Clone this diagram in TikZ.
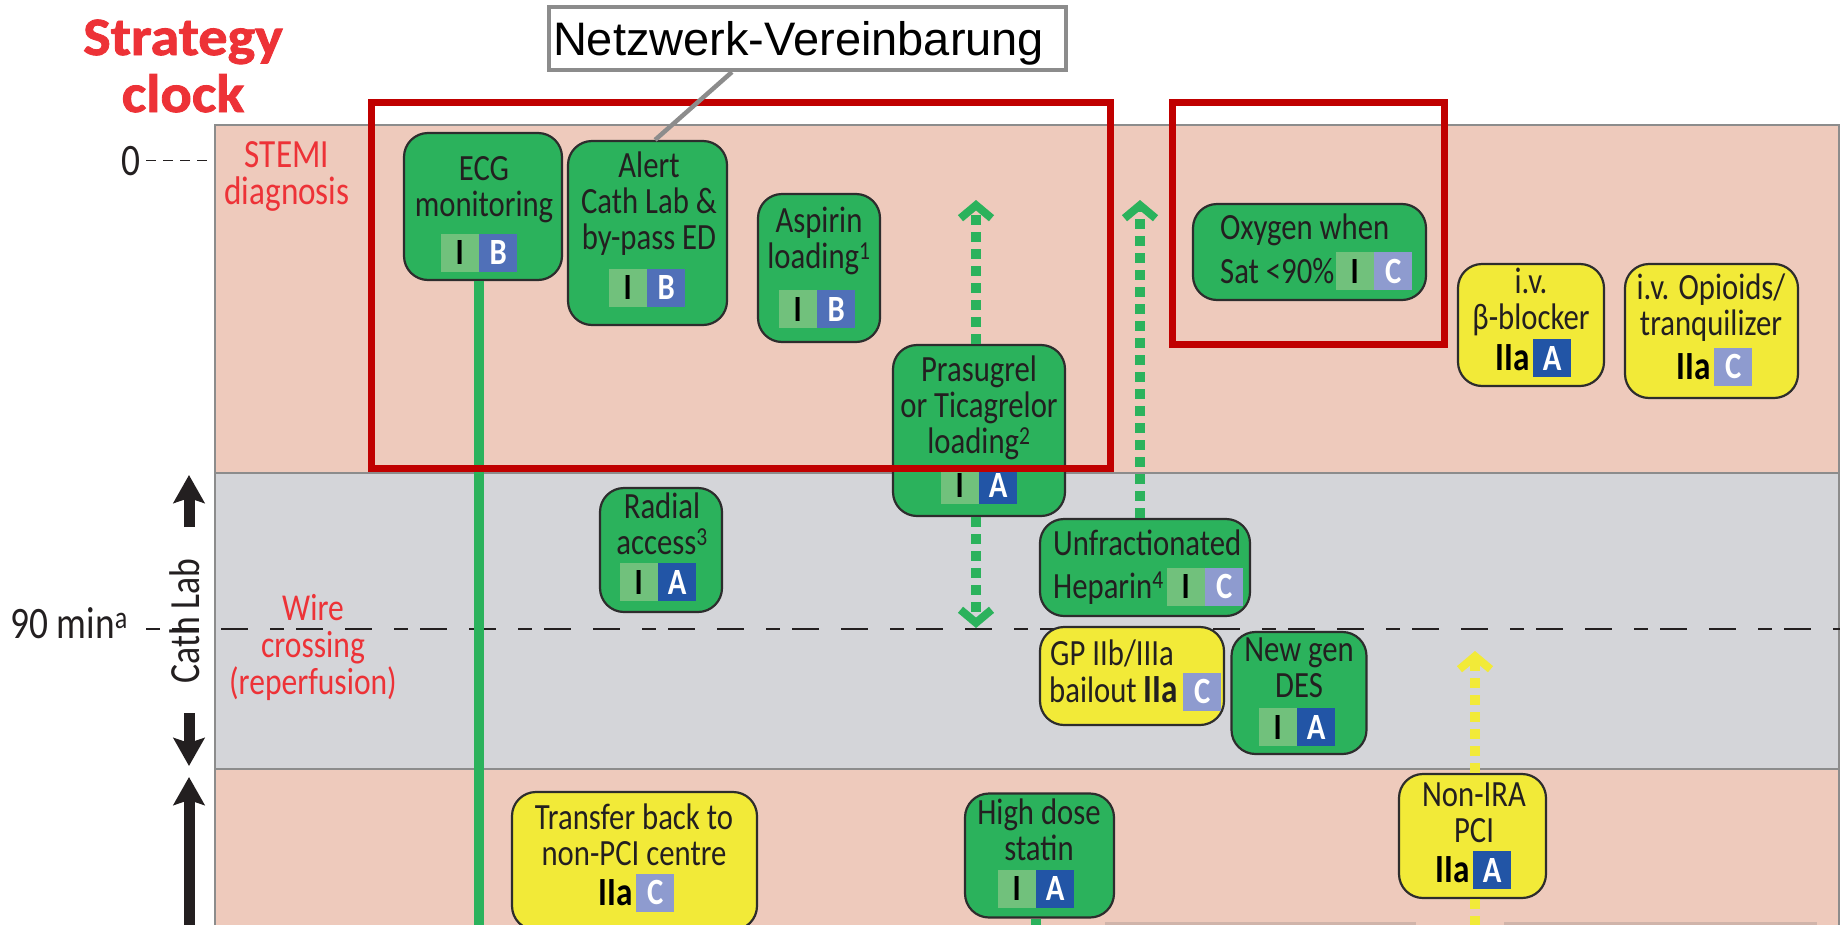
\documentclass[tikz,border=0pt]{standalone}
\usepackage{fontspec}
\setmainfont{Carlito}[FakeStretch=0.83]
\newfontfamily\titlefont{Carlito}[FakeStretch=1.08, BoldFeatures={FakeBold=1.6}]
\newfontfamily\arialfont{Liberation Sans}
\usetikzlibrary{arrows.meta,calc}
\definecolor{pinkbg}{RGB}{238,202,188}
\definecolor{graybg}{RGB}{212,213,217}
\definecolor{panelline}{RGB}{140,140,140}
\definecolor{boxgreen}{RGB}{43,178,92}
\definecolor{boxyellow}{RGB}{242,234,56}
\definecolor{boxline}{RGB}{45,45,45}
\definecolor{cellIc}{RGB}{113,193,124}
\definecolor{cellAc}{RGB}{34,85,166}
\definecolor{cellBc}{RGB}{80,112,184}
\definecolor{cellCc}{RGB}{142,155,207}
\definecolor{redtxt}{RGB}{237,50,55}
\definecolor{framered}{RGB}{192,0,0}
\definecolor{txtc}{RGB}{35,31,32}
\definecolor{calloutc}{RGB}{140,140,140}
\definecolor{bottomline}{RGB}{208,180,170}
\tikzset{
  band/.style={draw=panelline, line width=1.5pt, inner sep=0pt, anchor=north west},
  rbox/.style={draw=boxline, line width=2.2pt, rounded corners=24pt, inner sep=0pt},
  gbox/.style={rbox, fill=boxgreen},
  ybox/.style={rbox, fill=boxyellow},
  btxt/.style={font=\fontsize{37}{36}\selectfont, align=center, inner sep=0pt, text=txtc},
  cell/.style={minimum width=38pt, minimum height=38pt, inner sep=0pt, font=\fontsize{37}{36}\selectfont\bfseries},
  cI/.style={cell, fill=cellIc, text=black},
  cA/.style={cell, fill=cellAc, text=white},
  cB/.style={cell, fill=cellBc, text=white},
  cC/.style={cell, fill=cellCc, text=white},
  iia/.style={inner sep=0pt, font=\fontsize{40}{36}\selectfont\bfseries, text=black},
  redlbl/.style={font=\fontsize{40}{37}\selectfont, text=redtxt, align=center, inner sep=0pt},
  axlbl/.style={font=\fontsize{45}{44}\selectfont, text=txtc, inner sep=0pt},
  redframe/.style={draw=framered, line width=7pt, inner sep=0pt, anchor=north west},
  gline/.style={draw=boxgreen, line width=10pt},
  gdot/.style={draw=boxgreen, line width=10pt, dash pattern=on 10pt off 7pt, -{Straight Barb[length=13pt,width=31pt,line width=8pt]}},
  ydot/.style={draw=boxyellow, line width=10pt, dash pattern=on 10pt off 7pt, -{Straight Barb[length=13pt,width=31pt,line width=8pt]}},
  yseg/.style={draw=boxyellow, line width=10pt, dash pattern=on 10pt off 7pt},
  blackarrow/.style={draw=txtc, line width=11pt, -{Stealth[length=28pt,width=31pt,inset=5pt]}},
  tickdash/.style={draw=txtc, line width=1.6pt, dash pattern=on 10pt off 7pt},
  midline/.style={draw=txtc, line width=1.8pt, dash pattern=on 14pt off 12pt on 27pt off 22pt on 27pt off 22pt},
  netz/.style={draw=calloutc, line width=4pt, fill=white, inner xsep=4pt, inner ysep=0pt, font=\arialfont\fontsize{47}{47}\selectfont, text=black, text depth=0pt},
  callline/.style={draw=calloutc, line width=4.5pt},
}
\newcommand\twobadge[4]{%
  \node[cI, anchor=east] (#1I) at #2 {I};
  \node[#3, anchor=west] (#1L) at (#1I.east) {#4};}
\newcommand\iiabadge[4]{%
  \node[#3, anchor=west] (#1L) at #2 {#4};
  \node[iia, anchor=east] (#1I) at ([xshift=-3pt]#1L.west) {IIa};}
\begin{document}
\begin{tikzpicture}[x=1pt,y=-1pt]
\useasboundingbox (0,0) rectangle (1845,924);
% panel bands
\node[band, fill=pinkbg, minimum width=1624pt, minimum height=348pt] (band1) at (214,124) {};
\node[band, fill=graybg, minimum width=1624pt, minimum height=296pt] (band2) at (214,472) {};
\node[band, fill=pinkbg, minimum width=1624pt, minimum height=170pt] (band3) at (214,768) {};
\fill[bottomline] (1105,921.5) rectangle (1416,926);
\fill[bottomline] (1504,921.5) rectangle (1817,926);
% title and axis labels
\node[font=\titlefont\bfseries\fontsize{54}{57}\selectfont, text=redtxt, align=center, inner sep=0pt] (title) at (183,66) {Strategy\\clock};
\node[axlbl, anchor=base east] (zero) at (141,175) {0};
\draw[tickdash] ([xshift=5pt]zero.east) -- (zero.east -| band1.west);
\node[axlbl, anchor=base east] (ninety) at (128,638) {90 min\textsuperscript{a}};
\coordinate (dstart) at (146,629);
\draw[midline] (dstart) -- (dstart -| band2.east);
\node[font=\fontsize{43}{40}\selectfont, text=txtc, rotate=90, inner sep=0pt] (cath) at (185,621) {Cath Lab};
\coordinate (a1s) at (189,527); \coordinate (a1e) at (189,475);
\coordinate (a2s) at (189,713); \coordinate (a2e) at (189,766);
\coordinate (a3s) at (189,940); \coordinate (a3e) at (189,777);
\draw[blackarrow] (a1s) -- (a1e);
\draw[blackarrow] (a2s) -- (a2e);
\draw[blackarrow] (a3s) -- (a3e);
\node[redlbl] (stemi) at (287,176.5) {STEMI\\diagnosis};
\node[redlbl, font=\fontsize{38}{37}\selectfont] (wire) at (313,647.5) {Wire\\crossing\\(reperfusion)};
% connector coordinates
\coordinate (ecgend) at (479,940);
\coordinate (statend) at (1036,940);
\coordinate (pup) at (976,200);
\coordinate (pdown) at (976,628);
\coordinate (uup) at (1140,200);
\coordinate (nup) at (1475,651);
\coordinate (nend) at (1475,940);
% boxes
\node[gbox, minimum width=158pt, minimum height=147pt] (ecg) at (483,206.5) {};
\node[gbox, minimum width=159pt, minimum height=184pt] (alert) at (647.5,233) {};
\node[gbox, minimum width=122pt, minimum height=148pt] (asp) at (819,268) {};
\node[gbox, minimum width=172pt, minimum height=171pt] (pras) at (979,430.5) {};
\node[gbox, minimum width=233pt, minimum height=96pt] (oxy) at (1309.5,252) {};
\node[ybox, minimum width=146pt, minimum height=122pt] (bb) at (1531,325) {};
\node[ybox, minimum width=173pt, minimum height=134pt] (opi) at (1711.5,331) {};
\node[gbox, minimum width=122pt, minimum height=124pt] (rad) at (661,550) {};
\node[gbox, minimum width=210pt, minimum height=97pt] (ufh) at (1145,567.5) {};
\node[ybox, minimum width=184pt, minimum height=98pt] (gp) at (1132,676) {};
\node[gbox, minimum width=135pt, minimum height=122pt] (des) at (1299,693) {};
\node[ybox, minimum width=147pt, minimum height=124pt] (nira) at (1472.5,836) {};
\node[ybox, minimum width=245pt, minimum height=138pt] (trans) at (634.5,861) {};
\node[gbox, minimum width=149pt, minimum height=124pt] (stat) at (1039.5,855.5) {};
% connectors
\draw[gline] (ecgend |- ecg.south) -- (ecgend);
\draw[gline] (statend |- stat.south) -- (statend);
\draw[gdot] (pup |- pras.north) -- (pup);
\draw[gdot] (pdown |- pras.south) -- (pdown);
\draw[gdot] (uup |- ufh.north) -- (uup);
\draw[yseg] (nend |- nira.south) -- (nend);
\draw[ydot] (nup |- nira.north) -- (nup);
% box texts
\node[btxt] (ecgT) at (484,189.5) {ECG\\monitoring};
\twobadge{ecg}{(479,252.5)}{cB}{B}
\node[btxt] (alertT) at (649,204) {Alert\\Cath Lab \&\\by-pass ED};
\twobadge{alert}{(647,287.5)}{cB}{B}
\node[btxt] (aspT) at (819,241) {Aspirin\\loading\textsuperscript{1}};
\twobadge{asp}{(817,309)}{cB}{B}
\node[btxt] (prasT) at (979,408) {Prasugrel\\or Ticagrelor\\loading\textsuperscript{2}};
\twobadge{pras}{(979,485)}{cA}{A}
\node[btxt, anchor=base west] (oxyT1) at (1220,239) {Oxygen when};
\node[btxt, anchor=base west] (oxyT2) at (1220,283) {Sat <90\%};
\twobadge{oxy}{(1374,271)}{cC}{C}
\node[btxt] (bbT) at (1531,302) {i.v.\\β-blocker};
\iiabadge{bb}{(1533,358)}{cA}{A}
\node[btxt] (opiT) at (1711,307.5) {i.v. Opioids/\\tranquilizer};
\iiabadge{opi}{(1714,366.5)}{cC}{C}
\node[btxt] (radT) at (662,523.5) {Radial\\access\textsuperscript{3}};
\twobadge{rad}{(658,582)}{cA}{A}
\node[btxt, anchor=base west] (ufhT1) at (1053,555) {Unfractionated};
\node[btxt, anchor=base west] (ufhT2) at (1053,598) {Heparin\textsuperscript{4}};
\twobadge{ufh}{(1205,586.5)}{cC}{C}
\node[btxt, anchor=base west] (gpT1) at (1050,665) {GP IIb/IIIa};
\node[cC, anchor=west] (gpL) at (1183,691.5) {C};
\node[btxt, anchor=base east] (gpT2) at (1178,702) {bailout {\fontsize{40}{36}\selectfont\bfseries IIa}};
\node[btxt] (desT) at (1299,667.5) {New gen\\DES};
\twobadge{des}{(1297,727)}{cA}{A}
\node[btxt] (niraT) at (1474,812.5) {Non-IRA\\PCI};
\iiabadge{nira}{(1473,870)}{cA}{A}
\node[btxt] (transT) at (634,835) {Transfer back to\\non-PCI centre};
\iiabadge{trans}{(636,892.5)}{cC}{C}
\node[btxt] (statT) at (1039,830) {High dose\\statin};
\twobadge{stat}{(1036,888.5)}{cA}{A}
% red frames
\node[redframe, minimum width=739pt, minimum height=366pt] (fr1) at (368,99) {};
\node[redframe, minimum width=272pt, minimum height=242pt] (fr2) at (1169,99) {};
% callout
\node[netz, minimum width=517pt, minimum height=63pt, anchor=west] (netzbox) at (547,38.5) {\makebox[509pt][l]{Netzwerk-Vereinbarung}};
\draw[callline] ($(netzbox.south west)!0.355!(netzbox.south east)$) -- ($(alert.north west)!0.547!(alert.north east)$);
\end{tikzpicture}
\end{document}
